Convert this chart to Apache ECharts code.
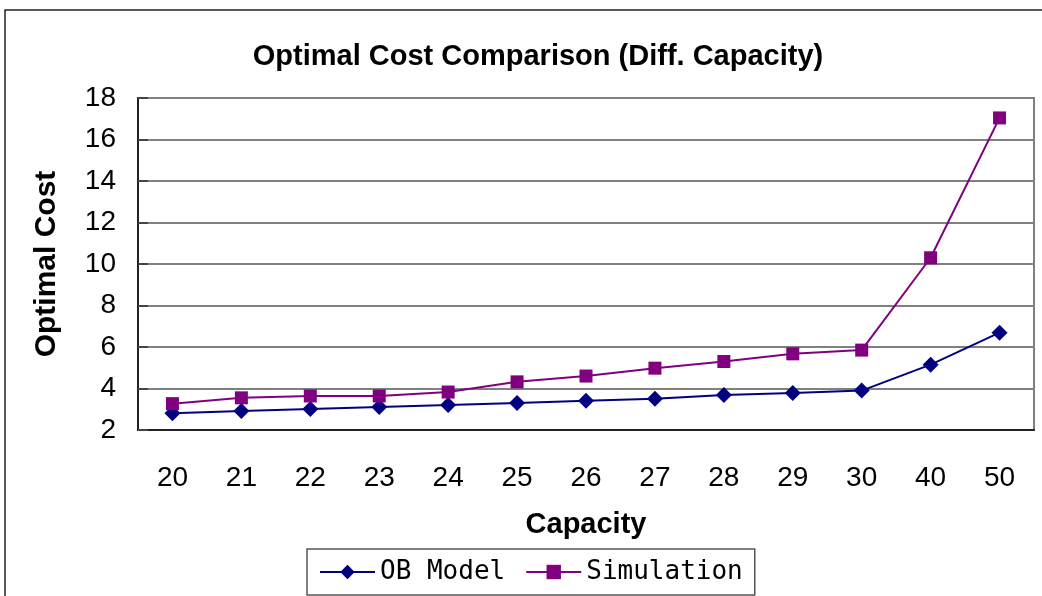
<!DOCTYPE html>
<html><head><meta charset="utf-8">
<script src="https://cdn.jsdelivr.net/npm/echarts@6/dist/echarts.min.js"></script>
<style>html,body{margin:0;padding:0;background:#fff}#c{width:1042px;height:596px}</style>
</head><body><div id="c"></div>
<script>
const categories = ['20','21','22','23','24','25','26','27','28','29','30','40','50'];
const obModel = [2.81, 2.92, 3.01, 3.11, 3.20, 3.30, 3.41, 3.51, 3.69, 3.78, 3.90, 5.15, 6.69];
const simulation = [3.27, 3.55, 3.64, 3.64, 3.83, 4.32, 4.60, 4.98, 5.30, 5.67, 5.85, 10.30, 17.04];
const seriesNames = ['OB Model', 'Simulation'];

const chart = echarts.init(document.getElementById('c'));
chart.setOption({
  animation: false,
  backgroundColor: '#fff',
  graphic: [{
    type: 'rect', shape: {x: 5, y: 10, width: 1050, height: 600},
    style: {fill: 'none', stroke: '#222', lineWidth: 1.5}, z: -1
  }],
  title: {
    text: 'Optimal Cost Comparison (Diff. Capacity)',
    left: 533, textAlign: 'center', top: 37,
    textStyle: {fontFamily: 'Liberation Sans', fontWeight: 'bold', fontSize: 29, color: '#000'}
  },
  legend: {
    data: seriesNames,
    left: 307, top: 549,
    padding: [10, 12, 10, 12],
    itemWidth: 55, itemHeight: 18, itemGap: 20,
    borderColor: '#555', borderWidth: 1.5,
    textStyle: {fontFamily: 'DejaVu Sans Mono', fontSize: 26, color: '#000'}
  },
  grid: {left: 138, right: 8, top: 98, bottom: 166, show: true, borderColor: '#808080', borderWidth: 2},
  xAxis: {
    type: 'category', data: categories, boundaryGap: true,
    name: 'Capacity', nameLocation: 'middle', nameGap: 80,
    nameTextStyle: {fontFamily: 'Liberation Sans', fontWeight: 'bold', fontSize: 29, color: '#000'},
    axisLine: {lineStyle: {color: '#222', width: 2}},
    axisTick: {inside: true, length: 10, lineStyle: {color: '#444', width: 2}},
    axisLabel: {margin: 34, fontFamily: 'Liberation Sans', fontSize: 28, color: '#000'}
  },
  yAxis: {
    type: 'value', min: 2, max: 18, interval: 2,
    name: 'Optimal Cost', nameLocation: 'middle', nameGap: 76,
    nameTextStyle: {fontFamily: 'Liberation Sans', fontWeight: 'bold', fontSize: 30, color: '#000'},
    axisLine: {show: true, lineStyle: {color: '#222', width: 2}},
    axisTick: {show: true, inside: true, length: 10, lineStyle: {color: '#444', width: 2}},
    axisLabel: {margin: 22, fontFamily: 'Liberation Sans', fontSize: 28, color: '#000'},
    splitLine: {lineStyle: {color: '#808080', width: 2}}
  },
  series: [
    {name: seriesNames[0], type: 'line', data: obModel, symbol: 'diamond', symbolSize: 16,
     itemStyle: {color: '#000080'}, lineStyle: {color: '#000080', width: 2}},
    {name: seriesNames[1], type: 'line', data: simulation, symbol: 'rect', symbolSize: 13,
     itemStyle: {color: '#800080'}, lineStyle: {color: '#800080', width: 2}}
  ]
});
</script></body></html>
